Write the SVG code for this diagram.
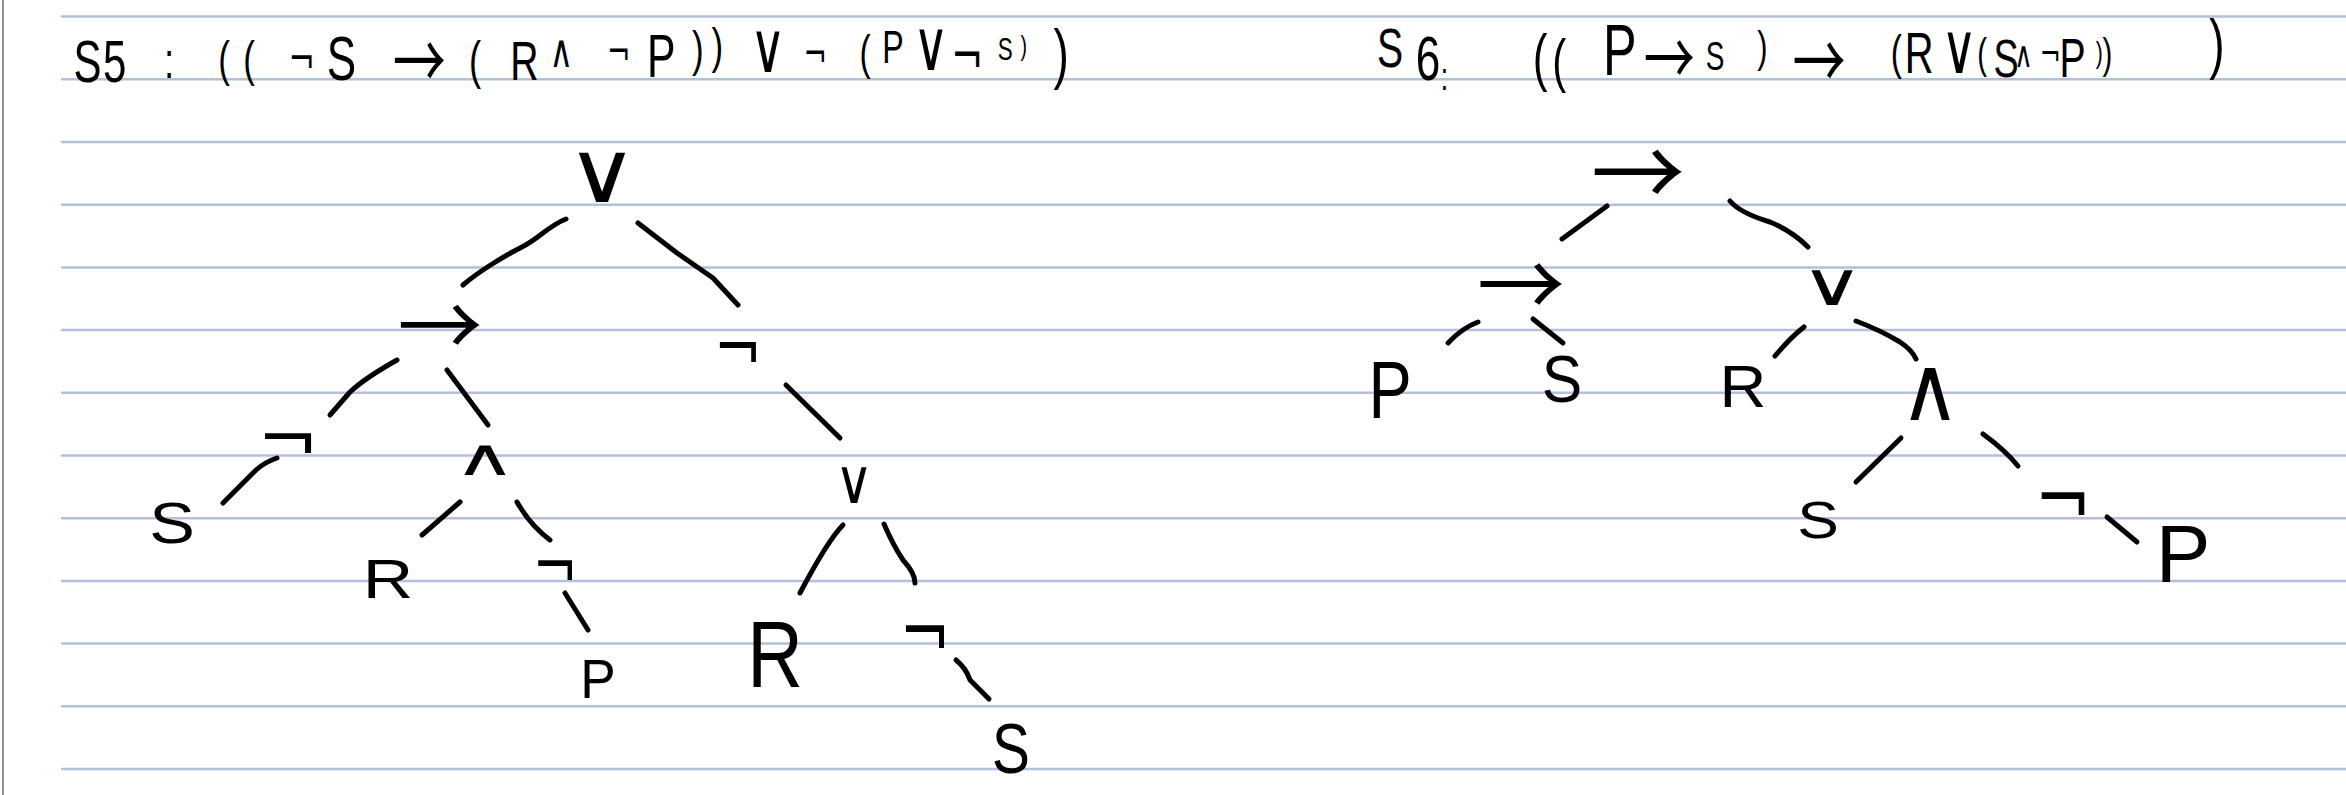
<svg xmlns="http://www.w3.org/2000/svg" width="2346" height="795" viewBox="0 0 2346 795">
<style>
.t{font-family:"Liberation Sans","DejaVu Sans",sans-serif;fill:#000;text-anchor:middle}
.m{font-family:"DejaVu Sans","Liberation Sans",sans-serif}
.a{font-family:"Noto Sans CJK JP","Liberation Sans","DejaVu Sans",sans-serif}
.rule{stroke:#b3c0d9;stroke-width:2.5}
.e{fill:none;stroke:#000;stroke-width:5;stroke-linecap:round;stroke-linejoin:round}
</style>
<rect width="2346" height="795" fill="#fff"/>
<g id="paper">
<line x1="3" y1="0" x2="3" y2="795" stroke="#6e6e6e" stroke-width="1.5"/>
<line class="rule" x1="61" y1="16.5" x2="2346" y2="16.5"/>
<line class="rule" x1="61" y1="79.3" x2="2346" y2="79.3"/>
<line class="rule" x1="61" y1="142" x2="2346" y2="142"/>
<line class="rule" x1="61" y1="204.7" x2="2346" y2="204.7"/>
<line class="rule" x1="61" y1="267.4" x2="2346" y2="267.4"/>
<line class="rule" x1="61" y1="330.1" x2="2346" y2="330.1"/>
<line class="rule" x1="61" y1="392.8" x2="2346" y2="392.8"/>
<line class="rule" x1="61" y1="455.5" x2="2346" y2="455.5"/>
<line class="rule" x1="61" y1="518.2" x2="2346" y2="518.2"/>
<line class="rule" x1="61" y1="580.9" x2="2346" y2="580.9"/>
<line class="rule" x1="61" y1="643.6" x2="2346" y2="643.6"/>
<line class="rule" x1="61" y1="706.3" x2="2346" y2="706.3"/>
<line class="rule" x1="61" y1="769" x2="2346" y2="769"/>
</g>
<g id="title-s5" transform="scale(0.7,1)">
<text class="t" font-size="60">
<tspan x="125" y="82">S</tspan><tspan x="164" y="82">5</tspan><tspan x="250" y="78" font-size="50">:</tspan>
<tspan x="320" y="76" font-size="50">(</tspan><tspan x="364" y="76" font-size="50">(</tspan>
<tspan class="m" x="431" y="74" font-size="45">¬</tspan><tspan x="496" y="80" font-size="63">S</tspan>
<tspan class="a" x="599" y="89" font-size="76">→</tspan><tspan x="687" y="78" font-size="52">(</tspan>
<tspan x="749" y="80" font-size="56">R</tspan><tspan class="m" x="810" y="67" font-size="46">∧</tspan>
<tspan class="m" x="884" y="66" font-size="40">¬</tspan><tspan x="953" y="77" font-size="61">P</tspan>
<tspan x="997" y="66" font-size="50">)</tspan><tspan x="1033" y="63" font-size="50">)</tspan>
<tspan class="m" x="1097" y="72" font-size="70">∨</tspan><tspan class="m" x="1173" y="68" font-size="40">¬</tspan>
<tspan x="1236" y="69" font-size="48">(</tspan><tspan x="1284" y="63" font-size="46">P</tspan>
<tspan class="m" x="1330" y="70" font-size="70">∨</tspan><tspan class="m" x="1390" y="75" font-size="55">¬</tspan>
<tspan x="1436" y="60" font-size="32">S</tspan><tspan x="1471" y="55" font-size="28">)</tspan>
<tspan x="1516" y="76" font-size="66">)</tspan>
</text>
</g>
<g id="title-s6" transform="scale(0.7,1)">
<text class="t" font-size="60">
<tspan x="1986" y="67" font-size="56">S</tspan><tspan x="2040" y="80" font-size="63">6</tspan><tspan x="2072" y="90" font-size="38">:</tspan>
<tspan x="2200" y="79" font-size="63">(</tspan><tspan x="2236" y="81" font-size="60">(</tspan>
<tspan x="2314" y="75" font-size="72">P</tspan><tspan class="a" x="2393" y="85" font-size="73">→</tspan>
<tspan x="2450" y="70" font-size="40">S</tspan><tspan x="2526" y="62" font-size="44">)</tspan>
<tspan class="a" x="2607" y="89" font-size="76">→</tspan>
<tspan x="2709" y="69" font-size="48">(</tspan><tspan x="2750" y="73" font-size="57">R</tspan>
<tspan class="m" x="2799" y="73" font-size="70">∨</tspan><tspan x="2840" y="68" font-size="42">(</tspan>
<tspan x="2866" y="77" font-size="54">S</tspan><tspan class="m" x="2899" y="67" font-size="36">∧</tspan>
<tspan class="m" x="2929" y="66" font-size="36">¬</tspan><tspan x="2969" y="77" font-size="56">P</tspan>
<tspan x="2999" y="63" font-size="30">)</tspan><tspan x="3019" y="68" font-size="42">)</tspan>
<tspan x="3167" y="66" font-size="66">)</tspan>
</text>
</g>
<g id="connectors">
<path class="e" d="M566,219 C548,226 540,238 522,247 S478,272 463,285"/>
<path class="e" d="M638,223 L677,253 L713,278 L738,305"/>
<path class="e" d="M397,360 Q365,378 350,392 L330,415"/>
<path class="e" d="M447,370 L488,425"/>
<path class="e" d="M277,458 Q265,462 256,470 L223,503"/>
<path class="e" d="M460,502 L422,535"/>
<path class="e" d="M517,502 Q530,525 550,540"/>
<path class="e" d="M565,593 L588,630"/>
<path class="e" d="M786,385 L840,438"/>
<path class="e" d="M843,525 Q828,540 800,593"/>
<path class="e" d="M884,524 Q893,545 903,560 Q915,573 915,583"/>
<path class="e" d="M956,660 Q966,668 970,680 L989,699"/>
<path class="e" d="M1607,206 L1562,239"/>
<path class="e" d="M1730,201 Q1740,213 1770,222 Q1792,231 1808,247"/>
<path class="e" d="M1478,322 Q1462,328 1448,343"/>
<path class="e" d="M1533,319 L1563,343"/>
<path class="e" d="M1804,327 Q1790,338 1775,356"/>
<path class="e" d="M1856,321 Q1880,330 1900,342 Q1912,350 1916,359"/>
<path class="e" d="M1901,438 L1856,482"/>
<path class="e" d="M1983,434 Q2005,450 2018,466"/>
<path class="e" d="M2107,517 L2137,542"/>
</g>
<g id="s5-or-root"><text class="t m" transform="translate(602,202) scale(1.15,1)" font-size="85">∨</text></g>
<g id="s5-impl"><text class="t a" transform="translate(440,357)" font-size="85">→</text></g>
<g id="s5-not-right"><text class="t m" transform="translate(738,372) scale(0.8,1)" font-size="72">¬</text></g>
<g id="s5-not-s"><text class="t m" transform="translate(288,463) scale(1.05,1)" font-size="70">¬</text></g>
<g id="s5-and"><text class="t m" transform="translate(485,475) scale(1.7,1)" font-size="51">∧</text></g>
<g id="s5-or"><text class="t m" transform="translate(854,503) scale(0.85,1)" font-size="62">∨</text></g>
<g id="s5-s1"><text class="t" transform="translate(172,543) scale(1.2,1)" font-size="57">S</text></g>
<g id="s5-r1"><text class="t" transform="translate(388,598) scale(1.25,1)" font-size="56">R</text></g>
<g id="s5-not-p"><text class="t m" transform="translate(555,590) scale(0.77,1)" font-size="70">¬</text></g>
<g id="s5-p"><text class="t" transform="translate(598,698) scale(0.95,1)" font-size="56">P</text></g>
<g id="s5-r2"><text class="t" transform="translate(775,687) scale(0.82,1)" font-size="94">R</text></g>
<g id="s5-not-s2"><text class="t m" transform="translate(925,659) scale(0.76,1)" font-size="80">¬</text></g>
<g id="s5-s2"><text class="t" transform="translate(1011,773) scale(0.8,1)" font-size="71">S</text></g>
<g id="s6-impl-root"><text class="t a" transform="translate(1638,208)" font-size="94">→</text></g>
<g id="s6-impl"><text class="t a" transform="translate(1521,317)" font-size="88">→</text></g>
<g id="s6-or"><text class="t m" transform="translate(1832,305) scale(1.45,1)" font-size="60">∨</text></g>
<g id="s6-p1"><text class="t" transform="translate(1390,418) scale(0.8,1)" font-size="81">P</text></g>
<g id="s6-s1"><text class="t" transform="translate(1562,402) scale(0.92,1)" font-size="66">S</text></g>
<g id="s6-r"><text class="t" transform="translate(1743,407) scale(1.1,1)" font-size="59">R</text></g>
<g id="s6-and"><text class="t m" transform="translate(1930,420) scale(0.92,1)" font-size="90">∧</text></g>
<g id="s6-s2"><text class="t" transform="translate(1818,538) scale(1.2,1)" font-size="52">S</text></g>
<g id="s6-not"><text class="t m" transform="translate(2063,526) scale(0.85,1)" font-size="80">¬</text></g>
<g id="s6-p2"><text class="t" transform="translate(2183,582)" font-size="82">P</text></g>
</svg>
